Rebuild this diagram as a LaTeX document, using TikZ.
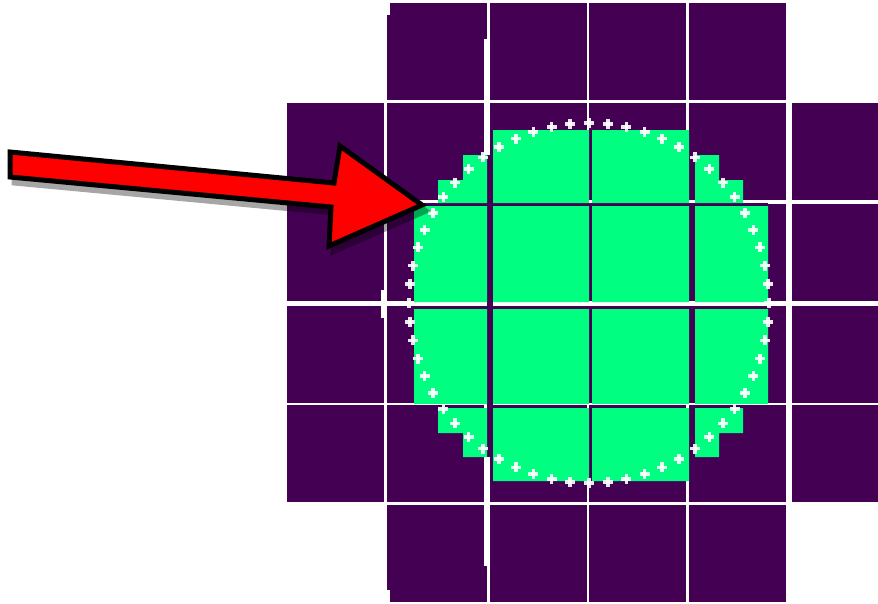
\documentclass[tikz,border=0pt]{standalone}
\usepackage{tikz}
\definecolor{tiledark}{HTML}{440154}
\definecolor{maskgreen}{HTML}{00FF80}
\definecolor{arrowred}{HTML}{FF0000}
\tikzset{
  tile/.style={fill=tiledark},
  maskfill/.style={fill=maskgreen},
  dotmark/.style={fill=white, opacity=.9},
  arrowbody/.style={fill=arrowred, draw=black, line width=5pt, line join=miter},
  arrowshadow/.style={fill=black, draw=black, line width=5pt, line join=miter},
}
\begin{document}
\begin{tikzpicture}[x=1pt, y=-1pt]
  \useasboundingbox (0,0) rectangle (878,603);
  \begin{scope}
    \clip (0,0) rectangle (878,603);
    % grid of tiles, corners left out
    \foreach \tx [count=\i from 0] in {287,387,490,589,689,792} {
      \foreach \ty [count=\j from 0] in {3,103,204,306,405,505} {
        \pgfmathtruncatemacro\corner{((\i==0)||(\i==5))&&((\j==0)||(\j==5))}
        \ifnum\corner=0
          \fill[tile] (\tx,\ty) rectangle ++(97,97);
        \fi
      }
    }
    % small warps at the tile edges
    \fill[white] (387,3) rectangle (390,15);
    \fill[tile] (484,3) rectangle (487,39);
    \fill[white] (381,290) rectangle (387,318);
    \fill[white] (387,590) rectangle (390,603);
    \fill[tile] (484,566) rectangle (487,602);
    % seams under the mask
    \fill[tile] (414,203) rectangle (768,206);
    \fill[tile] (414,306) rectangle (768,309);
    \fill[tile] (487,155) rectangle (493,457);
    % staircase mask, cut per tile
    \begin{scope}
      \clip \foreach \gxa/\gxb in {390/487,493/589,592/689,695/790} {
          \foreach \gya/\gyb in {106/203,206/302,309/404,408/481} {
            (\gxa,\gya) rectangle (\gxb,\gyb)
          }
        };
      \fill[maskfill] (493,130) -- (689,130) -- (689,155) -- (719,155) -- (719,180)
        -- (743,180) -- (743,205) -- (768,205) -- (768,405) -- (743,405) -- (743,433)
        -- (719,433) -- (719,457) -- (689,457) -- (689,481) -- (493,481) -- (493,457)
        -- (463,457) -- (463,433) -- (438,433) -- (438,405) -- (414,405) -- (414,205)
        -- (438,205) -- (438,180) -- (463,180) -- (463,155) -- (493,155) -- cycle;
    \end{scope}
    % markers on the circle
    \foreach \a in {0,6,...,354} {
      \pgfmathsetmacro\px{589+180*cos(\a)}
      \pgfmathsetmacro\py{303+180*sin(\a)}
      \fill[dotmark] (\px-5,\py-1.8) rectangle (\px+5,\py+1.8);
      \fill[dotmark] (\px-1.8,\py-5) rectangle (\px+1.8,\py+5);
    }
  \end{scope}
  % arrow with its shadow
  \begin{scope}[transparency group, opacity=.35, shift={(4,6)}]
    \filldraw[arrowshadow] (10,152) -- (334,183) -- (340,146) -- (422,205)
      -- (329,246) -- (331,207) -- (10,177) -- cycle;
  \end{scope}
  \filldraw[arrowbody] (10,152) -- (334,183) -- (340,146) -- (422,205)
    -- (329,246) -- (331,207) -- (10,177) -- cycle;
\end{tikzpicture}
\end{document}
